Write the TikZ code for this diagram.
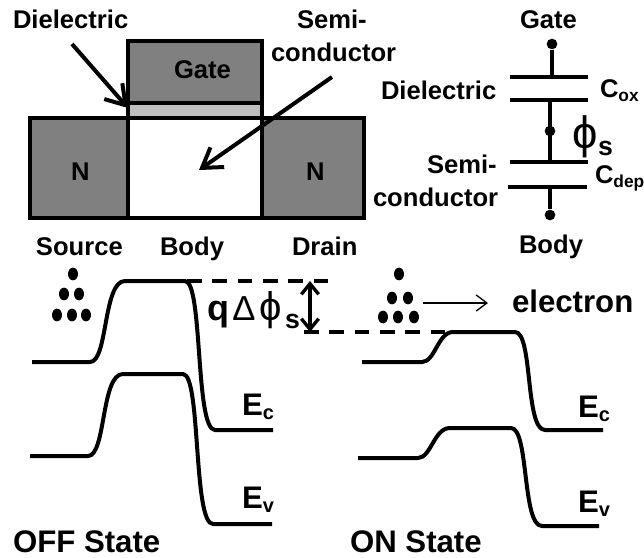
\documentclass[tikz,border=0pt]{standalone}
\usepackage{fontspec}
\setmainfont{Liberation Sans}
\newfontfamily\symfont{Liberation Sans}
\usetikzlibrary{arrows.meta,shapes.geometric}
\definecolor{metal}{HTML}{808080}
\definecolor{oxide}{HTML}{BFBFBF}
\newcommand{\fs}[1]{\fontsize{#1}{#1}\selectfont}
\tikzset{
  lab/.style={anchor=base west,inner sep=0pt,outer sep=0pt,font=\bfseries\fs{19.2}},
  big/.style={anchor=base west,inner sep=0pt,outer sep=0pt,font=\bfseries\fs{23.4}},
  block/.style={draw=black,line width=3pt,minimum width=0pt,inner sep=0pt},
  wire/.style={line width=3pt,line cap=butt},
  band/.style={line width=3pt,line join=round},
  pin/.style={circle,fill=black,inner sep=0pt,minimum size=8pt},
  elec/.style={ellipse,fill=black,inner sep=0pt,minimum width=7.5pt,minimum height=9.5pt},
  callout/.style={line width=3pt,-{Straight Barb[length=14pt,width=18pt,line width=3pt]}},
  gap/.style={line width=2.5pt,dash pattern=on 11pt off 8pt},
  span/.style={line width=3pt,{Straight Barb[length=8pt,width=13pt,line width=2.5pt]}-{Straight Barb[length=8pt,width=13pt,line width=2.5pt]}},
  thin arrow/.style={line width=1pt,-{Straight Barb[length=8pt,width=12pt,line width=1pt]}},
}
\begin{document}
\begin{tikzpicture}[x=0.75pt,y=-0.75pt]
\useasboundingbox[fill=white] (0,0) rectangle (644,558);
% structure
\node[block,fill=metal,minimum width=100.5pt,minimum height=46.5pt,anchor=center] (gate) at (195,72) {};
\node[block,fill=oxide,minimum width=100.5pt,minimum height=11.25pt] (diel) at (195,110.5) {};
\node[block,fill=metal,minimum width=73.5pt,minimum height=75pt] (src) at (79,168) {};
\node[block,fill=white,minimum width=100.5pt,minimum height=75pt] (bodyb) at (195,168) {};
\node[block,fill=metal,minimum width=76.5pt,minimum height=75pt] (drn) at (313,168) {};
\node[lab] (tgate) at (174,78) {Gate};
\node[lab] (n1) at (71,180) {N};
\node[lab] (n2) at (306,180) {N};
\node[lab] (tdiel) at (13,28) {Dielectric};
\node[lab] (tsemi) at (297,28) {Semi-};
\node[lab] (tcond) at (271,61) {conductor};
\node[lab] (tsrc) at (36,255) {Source};
\node[lab] (tbody) at (160,255) {Body};
\node[lab] (tdrain) at (292,255) {Drain};
\coordinate (a1s) at (72,44);
\coordinate (a1e) at (128,108);
\coordinate (a2s) at (332,77);
\coordinate (a2e) at (199,170);
\draw[callout] (a1s) -- (a1e);
\draw[callout] (a2s) -- (a2e);
% capacitor
\coordinate (p1a) at (510,77);\coordinate (p1b) at (588,77);
\coordinate (p2a) at (510,100);\coordinate (p2b) at (588,100);
\coordinate (p3a) at (510,162);\coordinate (p3b) at (588,162);
\coordinate (p4a) at (508,187);\coordinate (p4b) at (587,187);
\node[pin] (g) at (552,44) {};
\node[pin] (m) at (550,131) {};
\node[pin] (b) at (550,215) {};
\coordinate (p1m) at (552,77);\coordinate (p2m) at (550,100);
\coordinate (p3m) at (550,162);\coordinate (p4m) at (550,187);
\draw[wire] (p1a)--(p1b); \draw[wire] (p2a)--(p2b);
\draw[wire] (p3a)--(p3b); \draw[wire] (p4a)--(p4b);
\draw[wire] (g)--(p1m); \draw[wire] (p2m)--(p3m); \draw[wire] (p4m)--(b);
\node[lab] (cg) at (520,28) {Gate};
\node[lab] (cd) at (381,99) {Dielectric};
\node[lab] (cs) at (427,173) {Semi-};
\node[lab] (cc) at (373,206) {conductor};
\node[lab] (cb) at (519,253) {Body};
\node[lab] (cox) at (600,97) {C\raisebox{-3.5pt}{\fs{13}ox}};
\node[lab] (cdep) at (595,183) {C\raisebox{-3.5pt}{\fs{13}dep}};
\node[anchor=base west,inner sep=0pt,font=\symfont\fs{34}] (phi) at (572,148) {ϕ};
\node[big,font=\bfseries\fs{20}] (ps) at (598,155) {s};
% OFF bands
\draw[band] (32,362) -- (90,362) .. controls (108,362) and (103,281) .. (125,281) -- (185,281)
  .. controls (203,281) and (195,430) .. (215,430) -- (273,430);
\draw[band] (30,456) -- (88,456) .. controls (106,456) and (101,374) .. (123,374) -- (183,374)
  .. controls (201,374) and (193,524) .. (213,524) -- (272,524);
% ON bands
\draw[band] (362,362) -- (422,362) .. controls (435,362) and (438,332) .. (453,332) -- (515,332)
  .. controls (533,332) and (525,430) .. (545,430) -- (603,430);
\draw[band] (358,458) -- (418,458) .. controls (431,458) and (434,428) .. (450,428) -- (511,428)
  .. controls (529,428) and (522,526) .. (542,526) -- (599,526);
% electrons
\foreach \n/\x/\y in {a/73/274,b/64/294,c/79/294,d/57/315,e/72/315,f/86/315,
  g/399/274,h/392/298,i/408/298,j/383/317,k/398/317,l/414/317}{
  \node[elec] (el\n) at (\x,\y) {};
}
% offset
\coordinate (d1s) at (187,281);\coordinate (d1e) at (328,281);
\coordinate (d2s) at (304,332);\coordinate (d2e) at (448,332);
\draw[gap] (d1s)--(d1e);
\draw[gap] (d2s)--(d2e);
\coordinate (sp1) at (310,281);\coordinate (sp2) at (310,332);
\draw[span] (sp1)--(sp2);
\node[anchor=base west,inner sep=0pt,font=\bfseries\fs{27}] (q) at (207,320) {q};
\node[anchor=base west,inner sep=0pt,font=\symfont\fs{26}] (delta) at (232,320) {Δ};
\node[anchor=base west,inner sep=0pt,font=\symfont\fs{30}] (phi2) at (259,320) {ϕ};
\node[big,font=\bfseries\fs{20}] (s2) at (285,328) {s};
\coordinate (ta) at (423,303);\coordinate (tb) at (488,303);
\draw[thin arrow] (ta)--(tb);
\node[big] (electron) at (512,312) {electron};
\node[big] (ec1) at (242,415) {E\raisebox{-3.5pt}{\fs{15}c}};
\node[big] (ev1) at (242,508) {E\raisebox{-3.5pt}{\fs{15}v}};
\node[big] (ec2) at (578,417) {E\raisebox{-3.5pt}{\fs{15}c}};
\node[big] (ev2) at (578,512) {E\raisebox{-3.5pt}{\fs{15}v}};
\node[big] (off) at (13,552) {OFF State};
\node[big] (on) at (350,552) {ON State};
\end{tikzpicture}
\end{document}
